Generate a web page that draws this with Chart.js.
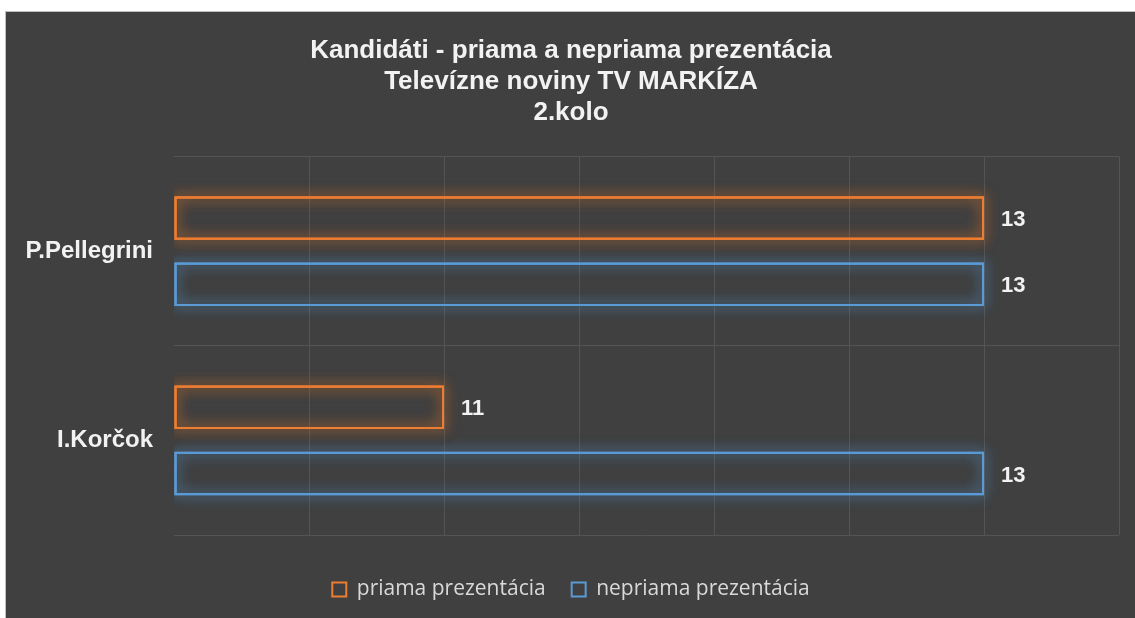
<!DOCTYPE html>
<html>
<head>
<meta charset="utf-8">
<script src="https://cdn.jsdelivr.net/npm/chart.js@4.4.1/dist/chart.umd.min.js"></script>
<style>
  html, body { margin:0; padding:0; background:#fff; width:1135px; height:618px; overflow:hidden; }
  #panel { position:absolute; left:5px; top:11px; width:1140px; height:620px; background:#404040; border:1px solid #bfbfbf; }
  #wrap { position:absolute; left:6px; top:12px; width:1130px; height:606px; }
</style>
</head>
<body>
<div id="panel"></div>
<div id="wrap"><canvas id="chart"></canvas></div>
<script>
// =======================
// Data
// =======================
const categories = ["P.Pellegrini", "I.Korčok"];
const priama = [13, 11];
const nepriama = [13, 13];
const seriesNames = ["priama prezentácia", "nepriama prezentácia"];
const titleLines = ["Kandidáti - priama a nepriama prezentácia", "Televízne noviny TV MARKÍZA", "2.kolo"];
const axisMin = 10, axisMax = 13.5, axisStep = 0.5;

const ORANGE = "#ED7D31", BLUE = "#5B9BD5";
const GRID = "#545454";
const BOLD = '"Liberation Sans", Arial, sans-serif';

// =======================
// Glow round the bar outlines
// =======================
const glowPlugin = {
  id: 'glow',
  beforeDatasetDraw(chart, args) {
    const ds = chart.data.datasets[args.index];
    const ctx = chart.ctx, area = chart.chartArea;
    ctx.save();
    ctx.beginPath();
    ctx.rect(area.left, area.top, area.right - area.left, area.bottom - area.top);
    ctx.clip();
    ctx.strokeStyle = ds.glowColor;
    ctx.shadowColor = ds.glowColor;
    ctx.shadowBlur = 14;
    ctx.lineWidth = 2;
    args.meta.data.forEach(bar => {
      const p = bar.getProps(['x', 'y', 'base', 'height'], true);
      for (let k = 0; k < 3; k++) {
        ctx.strokeRect(p.base + 1, p.y - p.height / 2 + 1, p.x - p.base - 2, p.height - 2);
      }
    });
    ctx.restore();
  }
};

// =======================
// Value labels at bar ends
// =======================
const valueLabels = {
  id: 'valueLabels',
  afterDatasetsDraw(chart) {
    const ctx = chart.ctx;
    ctx.save();
    ctx.font = 'bold 22px ' + BOLD;
    ctx.fillStyle = '#f2f2f2';
    ctx.textAlign = 'left';
    ctx.textBaseline = 'middle';
    chart.data.datasets.forEach((ds, i) => {
      chart.getDatasetMeta(i).data.forEach((bar, j) => {
        ctx.fillText(String(ds.data[j]), bar.x + 17, bar.y + 2);
      });
    });
    ctx.restore();
  }
};

function barSet(label, data, color, glow) {
  return {
    label: label, data: data, base: axisMin,
    backgroundColor: 'rgba(0,0,0,0)', borderColor: color, borderWidth: 2,
    borderSkipped: false, glowColor: glow,
    categoryPercentage: 0.7, barPercentage: 0.655
  };
}

new Chart(document.getElementById('chart'), {
  type: 'bar',
  data: {
    labels: categories,
    datasets: [
      barSet(seriesNames[0], priama, ORANGE, 'rgba(237,125,49,0.75)'),
      barSet(seriesNames[1], nepriama, BLUE, 'rgba(91,155,213,0.75)')
    ]
  },
  plugins: [glowPlugin, valueLabels],
  options: {
    indexAxis: 'y',
    responsive: true,
    maintainAspectRatio: false,
    animation: false,
    layout: { padding: { left: 17, right: 17, top: 0, bottom: 8 } },
    plugins: {
      title: {
        display: true, text: titleLines, color: '#f2f2f2',
        font: { family: BOLD, size: 26, weight: 'bold', lineHeight: 1.2 },
        padding: { top: 23, bottom: 28 }
      },
      legend: {
        position: 'bottom',
        labels: {
          color: '#d9d9d9', boxWidth: 14, boxHeight: 14, padding: 26,
          font: { family: '"Open Sans", "Noto Sans", sans-serif', size: 21 }
        }
      },
      tooltip: { enabled: false }
    },
    scales: {
      x: {
        min: axisMin, max: axisMax,
        ticks: { display: false, stepSize: axisStep },
        grid: { color: c => (c.tick && c.tick.value === axisMin) ? 'rgba(0,0,0,0)' : GRID, drawTicks: false },
        border: { display: false },
        afterFit(scale) { scale.height = 18; }
      },
      y: {
        ticks: { color: '#f2f2f2', padding: 21, font: { family: BOLD, size: 24, weight: 'bold' } },
        grid: { color: GRID, drawTicks: false },
        border: { display: false },
        afterFit(scale) { scale.width = 151; }
      }
    }
  }
});
</script>
</body>
</html>
